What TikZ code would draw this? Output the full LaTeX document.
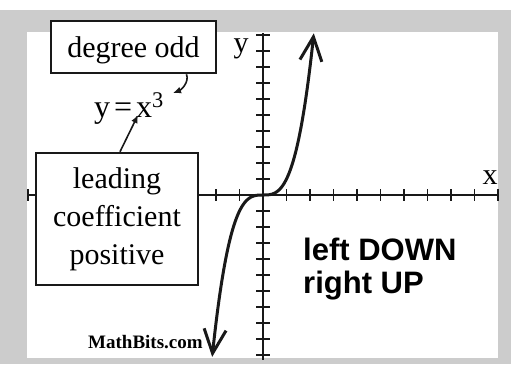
\documentclass[tikz,border=0pt]{standalone}
\usepackage{fontspec}
\setmainfont{Liberation Serif}
\newfontfamily\arialfont{Liberation Sans}
\usetikzlibrary{arrows.meta}
\begin{document}
\begin{tikzpicture}[x=1pt,y=-1pt,
  boxnode/.style={draw=black!90, line width=2.5pt, fill=white, inner sep=0pt, align=center},
  axisline/.style={line width=1.8pt, draw=black!90},
  tickline/.style={line width=1.4pt, draw=black!90},
  curveline/.style={line width=3pt, draw=black!90, {Straight Barb[length=24pt,width=22pt]}-{Straight Barb[length=24pt,width=22pt]}},
  callout/.style={line width=1.6pt, draw=black!90, -{Latex[length=8pt,width=7pt]}},
  serifbig/.style={font=\fontsize{30}{38}\selectfont},
]
\useasboundingbox (0,0) rectangle (511,364);
\fill[gray!40] (0,10) rectangle (511,364);
\fill[white] (27,32) rectangle (498,358);
% axes
\draw[axisline] (28,195) -- (498,195);
\draw[axisline] (263,33) -- (263,360);
\foreach \i in {-10,...,10} \draw[tickline] ({263+23.5*\i},189) -- ({263+23.5*\i},201);
\foreach \i in {-10,...,10} \draw[tickline] (256,{195-16*\i}) -- (270,{195-16*\i});
% curve y = x^3
\draw[curveline] plot[domain=-2.163:2.163, samples=80, smooth] ({263+23.5*\x}, {195-16*\x*\x*\x});
% boxes
\node[boxnode, minimum width=165pt, minimum height=52pt, text height=26.5pt, text depth=6.5pt, serifbig] (deg) at (133.5,47) {degree odd};
\node[boxnode, minimum width=162pt, minimum height=132pt, serifbig] (lead) at (117,219) {leading\\coefficient\\positive};
% labels
\node[anchor=base, inner sep=0pt, font=\fontsize{32}{38}\selectfont] (eq) at (129,117) {y\hspace{4pt}=\hspace{4pt}x\textsuperscript{3}};
\node[anchor=base, inner sep=0pt, font=\fontsize{30}{36}\selectfont] (ylab) at (241,52) {y};
\node[anchor=base, inner sep=0pt, font=\fontsize{30}{36}\selectfont] (xlab) at (490,184) {x};
\node[anchor=north west, inner sep=0pt, align=left, font=\arialfont\bfseries\fontsize{31}{33}\selectfont] (note) at (303,238) {left DOWN\\right UP};
\node[anchor=base west, inner sep=0pt, font=\bfseries\fontsize{19}{22}\selectfont] (mb) at (88,348) {MathBits.com};
% callout arrows
\coordinate (tipA) at (173,93);
\coordinate (tipB) at (138,115);
\draw[callout] ([xshift=53pt]deg.south) .. controls +(3,8) and +(8,-3) .. (tipA);
\draw[callout] ([xshift=3pt]lead.north) -- (tipB);
\end{tikzpicture}
\end{document}
